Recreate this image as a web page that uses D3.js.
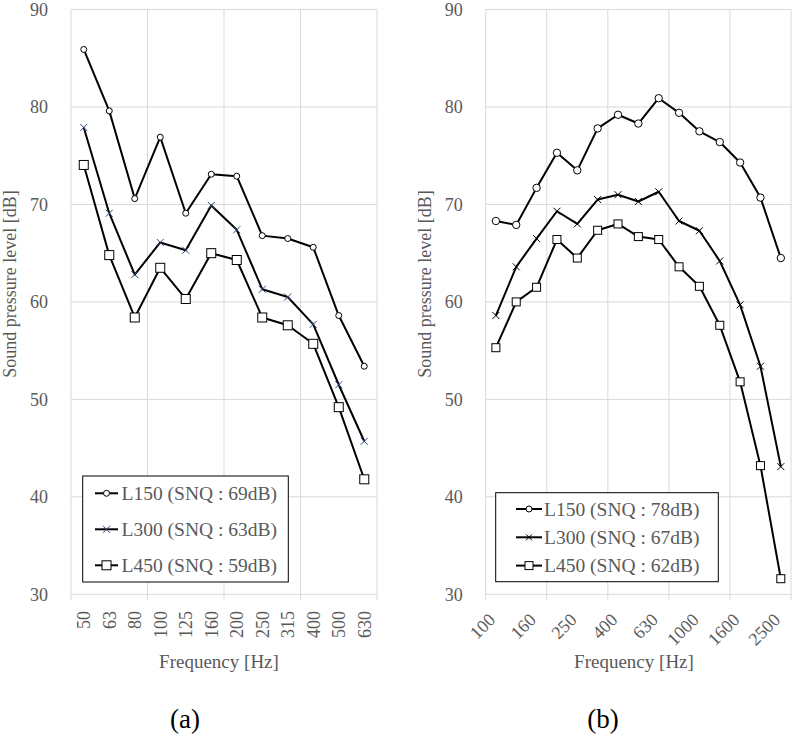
<!DOCTYPE html>
<html>
<head>
<meta charset="utf-8">
<script src="https://cdn.jsdelivr.net/npm/d3@7"></script>
<style>
html,body{margin:0;padding:0;background:#fff;}
text{font-family:"Liberation Serif","Times New Roman",serif;}
</style>
</head>
<body>
<svg id="chart" width="792" height="736"></svg>
<script>
// ---------- data ----------
const freqA = ["50","63","80","100","125","160","200","250","315","400","500","630"];
const a_L150 = [85.9,79.6,70.6,76.9,69.1,73.1,72.9,66.8,66.5,65.6,58.6,53.4];
const a_L300 = [77.9,69.1,62.8,66.1,65.3,69.9,67.4,61.3,60.5,57.7,51.5,45.7];
const a_L450 = [74.05,64.8,58.4,63.5,60.3,65.0,64.3,58.4,57.6,55.7,49.2,41.8];
const seriesNamesA = ["L150 (SNQ : 69dB)","L300 (SNQ : 63dB)","L450 (SNQ : 59dB)"];

const freqB = ["100","125","160","200","250","315","400","500","630","800","1000","1250","1600","2000","2500"];
const b_L150 = [68.3,67.9,71.7,75.3,73.5,77.8,79.2,78.3,80.9,79.4,77.5,76.4,74.3,70.7,64.5];
const b_L300 = [58.6,63.6,66.5,69.3,68.0,70.5,71.0,70.3,71.3,68.3,67.3,64.2,59.7,53.4,43.1];
const b_L450 = [55.3,60.0,61.5,66.4,64.5,67.35,68.0,66.7,66.4,63.6,61.6,57.6,51.8,43.2,31.6];
const seriesNamesB = ["L150 (SNQ : 78dB)","L300 (SNQ : 67dB)","L450 (SNQ : 62dB)"];

const yTicks = [30,40,50,60,70,80,90];
const xTitle = "Frequency [Hz]";
const yTitle = "Sound pressure level [dB]";

// ---------- drawing ----------
const svg = d3.select("#chart");
const GRID = "#d9d9d9", TXT = "#595959";

function marker(g, type, cx, cy, opt) {
  const o = Object.assign({r:3, s:9, xs:3.5, xcolor:"#000"}, opt||{});
  if (type === "circle") {
    g.append("circle").attr("cx",cx).attr("cy",cy).attr("r",o.r)
      .attr("fill","#fff").attr("stroke","#000").attr("stroke-width",1);
  } else if (type === "square") {
    g.append("rect").attr("x",cx-o.s/2).attr("y",cy-o.s/2).attr("width",o.s).attr("height",o.s)
      .attr("fill","#fff").attr("stroke","#000").attr("stroke-width",1);
  } else {
    g.append("path").attr("d",`M${cx-o.xs},${cy-o.xs}L${cx+o.xs},${cy+o.xs}M${cx-o.xs},${cy+o.xs}L${cx+o.xs},${cy-o.xs}`)
      .attr("stroke",o.xcolor).attr("stroke-width",1).attr("fill","none");
  }
}

function panel(cfg) {
  const g = svg.append("g");
  const x = d3.scaleBand().domain(cfg.cats).range([cfg.x0, cfg.x1]).paddingInner(0).paddingOuter(0);
  const y = d3.scaleLinear().domain([30,90]).range([594.3, 9.5]);
  const bw = x.bandwidth();

  // horizontal gridlines
  g.append("g").selectAll("line").data(yTicks).join("line")
    .attr("x1",cfg.x0).attr("x2",cfg.x1).attr("y1",d=>y(d)).attr("y2",d=>y(d))
    .attr("stroke",GRID).attr("stroke-width",1);
  // vertical gridlines every 3 categories + ticks
  const vx = [];
  for (let i = 0; i < cfg.cats.length; i += 3) vx.push(x(cfg.cats[i]));
  vx.push(x(cfg.cats[cfg.cats.length-1]) + bw);
  g.append("g").selectAll("line").data(vx).join("line")
    .attr("x1",d=>d).attr("x2",d=>d).attr("y1",y(90)).attr("y2",y(30)+6)
    .attr("stroke",GRID).attr("stroke-width",1);

  // y tick labels
  g.append("g").selectAll("text").data(yTicks).join("text")
    .attr("x",cfg.x0-23).attr("y",d=>y(d)).attr("dy","0.35em")
    .attr("text-anchor","end").attr("font-size",18).attr("fill",TXT).text(d=>d);

  // x tick labels
  const lab = g.append("g");
  cfg.cats.forEach((c,i) => {
    if (i % cfg.labelStep !== 0) return;
    const cx = x(c) + bw/2;
    if (cfg.rot === -90) {
      lab.append("text").attr("transform",`translate(${cx},611) rotate(-90)`)
        .attr("dy","0.35em").attr("text-anchor","end").attr("font-size",18).attr("fill",TXT).text(c);
    } else {
      lab.append("text").attr("transform",`translate(${cx+0.5},621) rotate(-45)`)
        .attr("text-anchor","end").attr("font-size",18).attr("fill",TXT).text(c);
    }
  });

  // axis titles
  g.append("text").attr("x",cfg.xTitleX).attr("y",668).attr("text-anchor","middle")
    .attr("font-size",19).attr("fill",TXT).text(xTitle);
  g.append("text").attr("transform",`translate(${cfg.yTitleX},284) rotate(-90)`)
    .attr("dy","0.35em").attr("text-anchor","middle").attr("font-size",18).attr("fill",TXT).text(yTitle);
  g.append("text").attr("x",cfg.capX).attr("y",728).attr("text-anchor","middle")
    .attr("font-size",27).attr("fill","#000").text(cfg.caption);

  // series
  const line = d3.line().x((d,i)=>x(cfg.cats[i])+bw/2).y(d=>y(d));
  cfg.series.forEach(s => {
    g.append("path").datum(s.values).attr("d",line)
      .attr("fill","none").attr("stroke","#000").attr("stroke-width",2).attr("stroke-linejoin","round");
  });
  cfg.series.forEach(s => {
    const mg = g.append("g");
    s.values.forEach((v,i) => marker(mg, s.type, x(cfg.cats[i])+bw/2, y(v), s.mopt));
  });

  // legend
  const L = cfg.legend;
  const lg = g.append("g");
  lg.append("rect").attr("x",L.x).attr("y",L.y).attr("width",L.w).attr("height",L.h)
    .attr("fill","#fff").attr("stroke","#000").attr("stroke-width",1);
  cfg.series.forEach((s,i) => {
    const yy = L.y + L.first + i*L.step;
    lg.append("line").attr("x1",L.lx0).attr("x2",L.lx1).attr("y1",yy).attr("y2",yy)
      .attr("stroke","#000").attr("stroke-width",2);
    marker(lg, s.type, (L.lx0+L.lx1)/2, yy, s.lopt || s.mopt);
    lg.append("text").attr("x",L.tx).attr("y",yy).attr("dy","0.35em")
      .attr("font-size",19.5).attr("fill",TXT).text(s.name);
  });
}

panel({
  cats: freqA, x0: 71, x1: 377, labelStep: 1, rot: -90,
  xTitleX: 219, yTitleX: 9.5, capX: 185, caption: "(a)",
  series: [
    {name: seriesNamesA[0], values: a_L150, type: "circle", mopt:{r:3}},
    {name: seriesNamesA[1], values: a_L300, type: "x", mopt:{xs:3.5, xcolor:"#2f4a7d"}},
    {name: seriesNamesA[2], values: a_L450, type: "square", mopt:{s:9}}
  ],
  legend: {x:82.7, y:476, w:205.6, h:106, first:17.3, step:36, lx0:95, lx1:118, tx:121.5}
});

panel({
  cats: freqB, x0: 485.7, x1: 791, labelStep: 2, rot: -45,
  xTitleX: 634, yTitleX: 425, capX: 603, caption: "(b)",
  series: [
    {name: seriesNamesB[0], values: b_L150, type: "circle", mopt:{r:3.7}, lopt:{r:3}},
    {name: seriesNamesB[1], values: b_L300, type: "x", mopt:{xs:3.5, xcolor:"#000"}, lopt:{xs:3}},
    {name: seriesNamesB[2], values: b_L450, type: "square", mopt:{s:8}}
  ],
  legend: {x:495.7, y:492.7, w:222.6, h:89, first:16.3, step:28.3, lx0:516, lx1:542, tx:544}
});
</script>
</body>
</html>
